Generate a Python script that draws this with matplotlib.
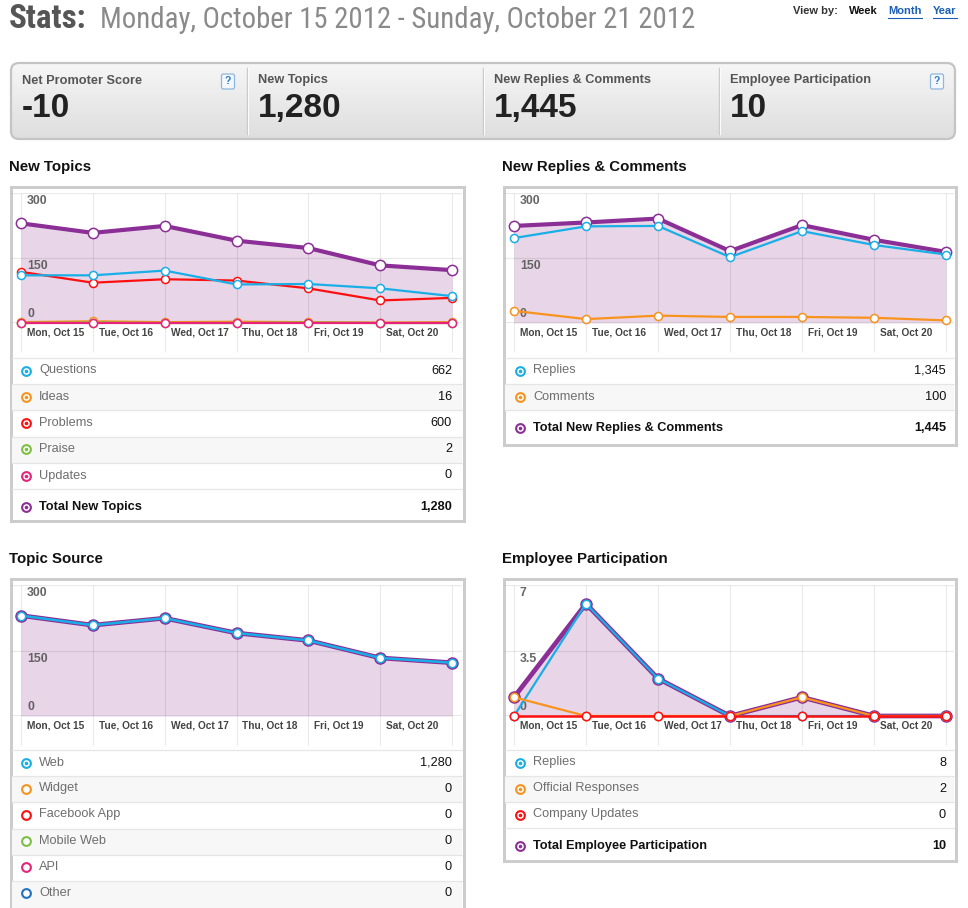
import numpy as np
import matplotlib
matplotlib.use("Agg")
import matplotlib.pyplot as plt
from matplotlib.patches import FancyBboxPatch, Rectangle
from matplotlib import font_manager

# ---------------- data ----------------
day_labels = ['Mon, Oct 15', 'Tue, Oct 16', 'Wed, Oct 17', 'Thu, Oct 18',
              'Fri, Oct 19', 'Sat, Oct 20']
n_days = 7

questions = [110, 110, 121, 89, 90, 80, 62]
ideas = [2, 4, 2, 3, 2, 1, 2]
problems = [118, 93, 101, 98, 80, 52, 58]
praise = [0, 1, 0, 0, 1, 0, 0]
updates = [0, 0, 0, 0, 0, 0, 0]

replies = [196, 223, 224, 152, 212, 180, 158]
comments = [28, 9, 17, 14, 14, 12, 6]

web = [230, 208, 224, 190, 173, 133, 122]
widget = [0, 0, 0, 0, 0, 0, 0]
facebook_app = [0, 0, 0, 0, 0, 0, 0]
mobile_web = [0, 0, 0, 0, 0, 0, 0]
api = [0, 0, 0, 0, 0, 0, 0]
other = [0, 0, 0, 0, 0, 0, 0]

emp_replies = [0, 6, 2, 0, 0, 0, 0]
emp_official = [1, 0, 0, 0, 1, 0, 0]
emp_updates = [0, 0, 0, 0, 0, 0, 0]

net_promoter_score = -10

# ---------------- style ----------------
W, H = 968, 908
BLUE = '#1aaee6'
ORANGE = '#f7931e'
RED = '#ff1010'
GREEN = '#7cc043'
PINK = '#e6247a'
PURPLE = '#8b2f96'
OTHERBLUE = '#1f70c1'
FILL = '#e8d6e8'
BORDER = '#cccccc'
SEP = '#e6e6e6'
SHADE = '#f7f7f7'

# find a condensed / narrow family if one is installed
NARROW = None
NARROW_STRETCH = 'normal'
_pref = ['Liberation Sans Narrow', 'Roboto Condensed', 'Open Sans Condensed',
         'DejaVu Sans Condensed', 'Noto Sans Condensed', 'Arial Narrow']
_names = {f.name for f in font_manager.fontManager.ttflist}
for p in _pref:
    if p in _names:
        NARROW = p
        break
if NARROW is None:
    for f in font_manager.fontManager.ttflist:
        st = f.stretch
        if (isinstance(st, str) and st in ('condensed', 'semi-condensed')) or \
           (isinstance(st, (int, float)) and 300 <= st < 500):
            if 'Mono' not in f.name and 'Serif' not in f.name and 'CJK' not in f.name:
                NARROW = f.name
                NARROW_STRETCH = 'condensed'
                break
    if NARROW is None:
        for n in sorted(_names):
            if ('Narrow' in n or 'Condensed' in n) and 'Mono' not in n:
                NARROW = n
                break

plt.rcParams['font.family'] = ['Liberation Sans', 'DejaVu Sans']

fig = plt.figure(figsize=(W / 100, H / 100), dpi=100)
fig.patch.set_facecolor('white')
bg = fig.add_axes([0, 0, 1, 1])
bg.set_xlim(0, W)
bg.set_ylim(H, 0)
bg.axis('off')

PT = 0.72  # points per pixel


def ntext(x, y, s, px, **kw):
    if NARROW:
        bg.text(x, y, s, family=[NARROW, 'DejaVu Sans'], fontstretch=NARROW_STRETCH,
                fontsize=px * PT, **kw)
    else:
        bg.text(x, y, s, family=['Liberation Sans', 'DejaVu Sans'],
                fontsize=px * PT * 0.82, **kw)


def fmt(v):
    return f"{v:,}"


# ---------------- header ----------------
ntext(9, 19, 'Stats:', 33, color='#555555', fontweight='bold', va='center')
ntext(100, 19.5, 'Monday, October 15 2012 - Sunday, October 21 2012', 28.8,
      color='#8a8a8a', va='center')

bg.text(793, 11, 'View by:', fontsize=8, fontweight='bold', color='#333333', va='center')
bg.text(849, 11, 'Week', fontsize=8, fontweight='bold', color='#111111', va='center')
for label, x0, x1 in [('Month', 888, 922), ('Year', 933, 957)]:
    bg.text(x0, 11, label, fontsize=8, fontweight='bold', color='#1a5fb4', va='center')
    bg.plot([x0, x1], [17.5, 17.5], color='#1a5fb4', lw=0.8)

# ---------------- KPI box ----------------
box = FancyBboxPatch((11, 63), 944, 76, boxstyle='round,pad=0,rounding_size=8',
                     facecolor='none', edgecolor='#c4c4c4', lw=1.6, zorder=3)
bg.add_patch(box)
grad = np.linspace(0.965, 0.87, 100).reshape(-1, 1)
im = bg.imshow(np.dstack([grad, grad, grad]), extent=(11, 955, 139, 63),
               aspect='auto', zorder=1, origin='upper')
im.set_clip_path(box)
for xd in [247, 483, 719]:
    bg.plot([xd, xd], [68, 134], color='#c8c8c8', lw=1.0, zorder=4)
    bg.plot([xd + 1.2, xd + 1.2], [68, 134], color='#fbfbfb', lw=0.8, zorder=4)

kpis = [
    ('Net Promoter Score', fmt(net_promoter_score), 22),
    ('New Topics', fmt(sum(questions) + sum(ideas) + sum(problems) + sum(praise) + sum(updates)), 258),
    ('New Replies & Comments', fmt(sum(replies) + sum(comments)), 494),
    ('Employee Participation', fmt(sum(emp_replies) + sum(emp_official) + sum(emp_updates)), 730),
]
for lab, val, x0 in kpis:
    bg.text(x0, 80.5, lab, fontsize=9.2, color='#555555', fontweight='bold',
            va='center', zorder=5)
    bg.text(x0 - 0.5, 108.5, val, fontsize=24, color='#222222', fontweight='bold',
            va='center', zorder=5)
for qxc in [228, 937]:
    qb = FancyBboxPatch((qxc - 6.5, 74), 13, 15, boxstyle='round,pad=0,rounding_size=2',
                        facecolor='#f4f8fc', edgecolor='#8fb6dc', lw=0.9, zorder=5)
    bg.add_patch(qb)
    bg.text(qxc, 81.5, '?', fontsize=7.5, fontweight='bold', color='#2c79c6',
            ha='center', va='center', zorder=6)

# ---------------- section titles ----------------
for t, x0, y0 in [('New Topics', 9, 167), ('New Replies & Comments', 502, 167),
                  ('Topic Source', 9, 559), ('Employee Participation', 502, 559)]:
    bg.text(x0, y0, t, fontsize=10.8, fontweight='bold', color='#111111', va='center')


# ---------------- panels ----------------
def panel(x0, x1, y0, y1):
    bg.add_patch(Rectangle((x0 + 1.5, y0 + 1.5), x1 - x0 - 3, y1 - y0 - 3,
                           facecolor='white', edgecolor=BORDER, lw=3 * PT, zorder=0.5))


panel(9, 465, 185, 522)
panel(502, 957, 185, 446)
panel(9, 465, 577, 930)
panel(502, 957, 577, 862)


def legend_rows(x_icon, x_val, x_left, x_right, rows, seps, shaded):
    for (y0, y1) in shaded:
        bg.add_patch(Rectangle((x_left, y0), x_right - x_left, y1 - y0,
                               facecolor=SHADE, edgecolor='none', zorder=0.8))
    for ys in seps:
        bg.plot([x_left, x_right], [ys, ys], color=SEP, lw=0.9, zorder=0.9)
    for (label, val, color, y, filled, bold) in rows:
        bg.plot(x_icon, y, 'o', ms=6.3, mfc='white', mec=color, mew=1.5, zorder=2)
        if filled:
            bg.plot(x_icon, y, 'o', ms=2.6, mfc=color, mec=color, mew=0, zorder=3)
        bg.text(x_icon + 13, y, label, fontsize=9.2, va='center',
                color='#111111' if bold else '#6e6e6e',
                fontweight='bold' if bold else 'normal')
        bg.text(x_val, y, fmt(val), fontsize=9.2, va='center', ha='right',
                color='#111111', fontweight='bold' if bold else 'normal')


legend_rows(26, 452, 12, 462,
            [('Questions', sum(questions), BLUE, 370.5, True, False),
             ('Ideas', sum(ideas), ORANGE, 396.5, True, False),
             ('Problems', sum(problems), RED, 423, True, False),
             ('Praise', sum(praise), GREEN, 449, True, False),
             ('Updates', sum(updates), PINK, 475.5, True, False),
             ('Total New Topics', sum(questions) + sum(ideas) + sum(problems) + sum(praise) + sum(updates),
              PURPLE, 507, True, True)],
            [358, 384, 410, 437, 463, 489], [(384, 410), (437, 463)])

legend_rows(520, 946, 505, 954,
            [('Replies', sum(replies), BLUE, 370.5, True, False),
             ('Comments', sum(comments), ORANGE, 396.5, True, False),
             ('Total New Replies & Comments', sum(replies) + sum(comments), PURPLE, 428, True, True)],
            [358, 384, 410], [(384, 410)])

legend_rows(26, 452, 12, 462,
            [('Web', sum(web), BLUE, 762.5, True, False),
             ('Widget', sum(widget), ORANGE, 788.5, False, False),
             ('Facebook App', sum(facebook_app), RED, 814.5, False, False),
             ('Mobile Web', sum(mobile_web), GREEN, 841, False, False),
             ('API', sum(api), PINK, 867, False, False),
             ('Other', sum(other), OTHERBLUE, 893, False, False)],
            [750, 776, 802, 829, 855, 881], [(776, 802), (829, 855), (881, 908)])

legend_rows(520, 946, 505, 954,
            [('Replies', sum(emp_replies), BLUE, 762.5, True, False),
             ('Official Responses', sum(emp_official), ORANGE, 788.5, True, False),
             ('Company Updates', sum(emp_updates), RED, 814.5, True, False),
             ('Total Employee Participation', sum(emp_replies) + sum(emp_official) + sum(emp_updates),
              PURPLE, 846, True, True)],
            [750, 776, 802, 828], [(776, 802)])


# ---------------- charts ----------------
def chart(x_left, x_right, x_first, x_last, y_top, y_base, y_end, ymax, ylabels):
    ax = fig.add_axes([x_left / W, 1 - y_base / H, (x_right - x_left) / W, (y_base - y_top) / H])
    unit = (x_last - x_first) / (n_days - 1)
    ax.set_xlim(-(x_first - x_left) / unit, (n_days - 1) + (x_right - x_last) / unit)
    ax.set_ylim(0, ymax)
    ax.axis('off')
    ybot = -(y_end - y_base) / (y_base - y_top) * ymax
    x = np.arange(n_days)
    ax.vlines(x, ybot, ymax, color='black', alpha=0.085, lw=0.8, zorder=2, clip_on=False)
    for yv in [ymax / 2, ymax]:
        ax.axhline(yv, color='black', alpha=0.085, lw=0.9, zorder=2)
    ax.axhline(0, color='#8a8a8a', lw=1.0, zorder=2.5)
    for yv, lab in zip([0, ymax / 2, ymax], ylabels):
        if yv == 0:
            off, va = 3 * PT, 'bottom'
        else:
            off, va = -2.5 * PT, 'top'
        ax.annotate(lab, (0, yv), xytext=(6 * PT, off), textcoords='offset points',
                    va=va, ha='left', fontsize=8.8, fontweight='bold', color='#555555',
                    alpha=0.9, zorder=2.6, annotation_clip=False)
    for i, lab in enumerate(day_labels):
        ax.annotate(lab, (i, 0), xytext=(6 * PT, -9.5 * PT), textcoords='offset points',
                    va='center', ha='left', fontsize=7.3, fontweight='bold', color='#444444',
                    annotation_clip=False)
    return ax, x


def series(ax, x, y, color, lw, ms, z):
    ax.plot(x, y, color=color, lw=lw, zorder=z, clip_on=False, solid_joinstyle='round')
    ax.plot(x, y, 'o', ms=ms, mfc='white', mec=color, mew=1.1, zorder=z + 0.1, clip_on=False)


# New Topics
ax, x = chart(12, 462, 21, 452, 193, 323, 352, 300, ['0', '150', '300'])
total_topics = np.array(questions) + np.array(ideas) + np.array(problems) + np.array(praise) + np.array(updates)
ax.fill_between(x, 0, total_topics, color=FILL, lw=0, zorder=1)
series(ax, x, total_topics, PURPLE, 3.0, 7.4, 3)
series(ax, x, ideas, ORANGE, 1.6, 5.8, 4)
series(ax, x, praise, GREEN, 1.6, 5.8, 4.2)
series(ax, x, updates, PINK, 1.6, 5.8, 4.4)
series(ax, x, problems, RED, 1.6, 5.8, 4.6)
series(ax, x, questions, BLUE, 1.6, 5.8, 4.8)

# New Replies & Comments
ax, x = chart(505, 954, 514, 946, 193, 323, 352, 300, ['0', '150', '300'])
total_rc = np.array(replies) + np.array(comments)
ax.fill_between(x, 0, total_rc, color=FILL, lw=0, zorder=1)
series(ax, x, total_rc, PURPLE, 3.0, 7.4, 3)
series(ax, x, replies, BLUE, 1.6, 5.8, 4)
series(ax, x, comments, ORANGE, 1.6, 5.8, 4.2)

# Topic Source
ax, x = chart(12, 462, 21, 452, 585, 716, 745, 300, ['0', '150', '300'])
total_src = (np.array(web) + np.array(widget) + np.array(facebook_app) + np.array(mobile_web)
             + np.array(api) + np.array(other))
ax.fill_between(x, 0, total_src, color=FILL, lw=0, zorder=1)
ax.plot(x, total_src, color=PURPLE, lw=3.4, zorder=3, clip_on=False)
ax.plot(x, total_src, 'o', ms=8.0, mfc=PURPLE, mec=PURPLE, zorder=3.1, clip_on=False)
series(ax, x, web, BLUE, 1.8, 6.0, 4)

# Employee Participation
ax, x = chart(505, 954, 514, 946, 585, 716, 745, 7, ['0', '3.5', '7'])
total_emp = np.array(emp_replies) + np.array(emp_official) + np.array(emp_updates)
ax.fill_between(x, 0, total_emp, color=FILL, lw=0, zorder=1)
ax.plot(x, total_emp, color=PURPLE, lw=3.4, zorder=3, clip_on=False)
ax.plot(x, total_emp, 'o', ms=8.0, mfc=PURPLE, mec=PURPLE, zorder=3.1, clip_on=False)
series(ax, x, emp_replies, BLUE, 1.6, 6.0, 4)
series(ax, x, emp_official, ORANGE, 1.6, 6.0, 4.2)
series(ax, x, emp_updates, RED, 1.8, 6.0, 4.4)

fig.savefig('out.png', dpi=100, facecolor='white')
